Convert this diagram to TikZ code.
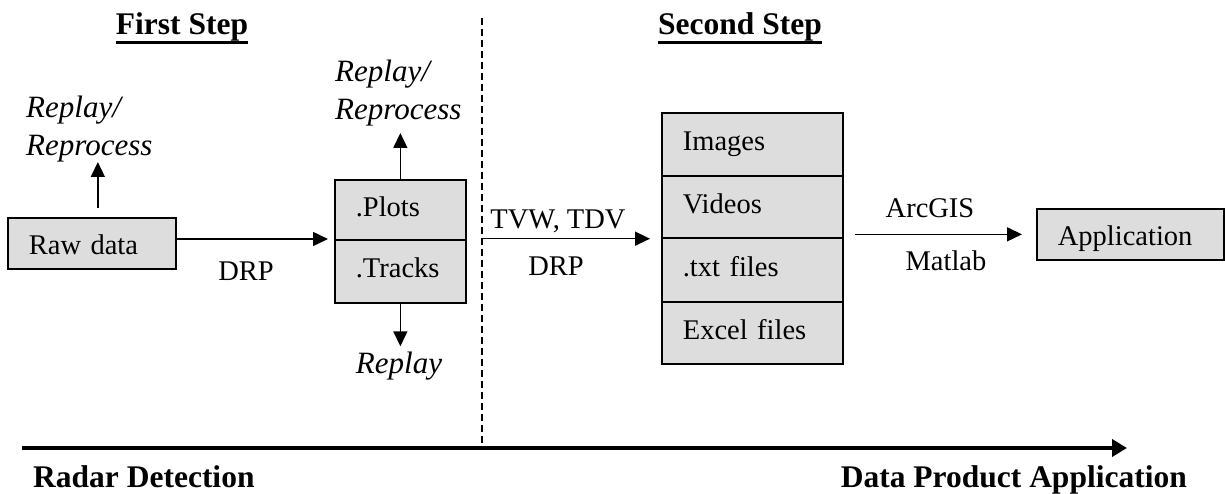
\documentclass[tikz,border=0pt]{standalone}
\usepackage{fontspec}
\setmainfont{Liberation Serif}
\usetikzlibrary{arrows.meta,calc}
\definecolor{boxgray}{HTML}{DDDDDD}
\newcommand\bodyfont{\fontsize{28.5pt}{37pt}\selectfont}
\newcommand\italfont{\fontsize{31pt}{37.5pt}\selectfont\itshape}
\newcommand\titlefont{\fontsize{31.5pt}{38pt}\selectfont\bfseries}
\begin{document}
\begin{tikzpicture}[x=1pt,y=-1pt,
  every node/.style={inner sep=0pt,font=\bodyfont},
  cell/.style={draw=black,line width=1.7pt,fill=boxgray,align=left,inner xsep=21pt,inner ysep=0pt,
    text height=19pt,text depth=6pt,anchor=north west},
  lowtext/.style={text height=25pt,text depth=2pt},
  ital/.style={font=\italfont},
  title/.style={font=\titlefont},
  arr/.style={-{Triangle[length=15pt,width=14pt]},line width=1.5pt},
  ulined/.style={line width=3pt}
]
\useasboundingbox (0,0) rectangle (1225,494);

% titles
\node[title,anchor=base] (t1) at (182,35) {First Step};
\node[title,anchor=base] (t2) at (740,35) {Second Step};
\draw[ulined] ($(t1.base west)+(0,7.5)$) -- ($(t1.base east)+(0,7.5)$);
\draw[ulined] ($(t2.base west)+(0,7.5)$) -- ($(t2.base east)+(0,7.5)$);

% boxes
\node[cell,lowtext,minimum width=168pt,text width=126pt,minimum height=51pt] (raw) at (7,217) {Raw data};
\node[cell,minimum width=131pt,text width=89pt,minimum height=60pt] (plots) at (334,179) {.Plots};
\node[cell,minimum width=131pt,text width=89pt,minimum height=63pt] (tracks) at (334,239) {.Tracks};
\node[cell,minimum width=181pt,text width=139pt,minimum height=63pt] (images) at (661,112) {Images};
\node[cell,minimum width=181pt,text width=139pt,minimum height=62pt] (videos) at (661,175) {Videos};
\node[cell,minimum width=181pt,text width=139pt,minimum height=64pt] (txt) at (661,237) {.txt files};
\node[cell,minimum width=181pt,text width=139pt,minimum height=62pt] (excel) at (661,301) {Excel files};
\node[cell,lowtext,minimum width=187pt,text width=145pt,minimum height=51pt] (app) at (1036,208) {Application};

% italic labels
\node[ital,align=left,anchor=south west] (rep1) at (26,162) {Replay/\\Reprocess};
\node[ital,align=left,anchor=south west] (rep2) at (335,126) {Replay/\\Reprocess};
\node[ital,anchor=base] (rep3) at (399,373) {Replay};

% edge labels
\node[anchor=base] (drp1) at (246,280) {DRP};
\node[anchor=base] (tvw) at (558,229) {TVW, TDV};
\node[anchor=base] (drp2) at (556,275) {DRP};
\node[anchor=base] (arc) at (930,218) {ArcGIS};
\node[anchor=base] (mat) at (946,270) {Matlab};

% divider
\coordinate (dtop) at (482,18);
\coordinate (dbot) at (482,448);
\draw[line width=1.2pt,dash pattern=on 7pt off 4pt] (dtop) -- (dbot);

% arrows
\coordinate (rawup) at ($(raw.north)+(6,-9)$);
\draw[arr] (rawup) -- (rawup |- rep1.south);
\draw[arr,shorten >=6pt] (raw.east |- tracks.north) -- (tracks.north west);
\draw[arr,shorten >=7pt] (plots.north) -- (plots.north |- rep2.south);
\draw[arr,shorten >=5pt] (tracks.south) -- (tracks.south |- rep3.north);
\draw[arr,shorten >=11pt] (dtop |- videos.south) -- (videos.south west);
\draw[arr,shorten <=11pt,shorten >=14pt] (app.west -| videos.east) -- (app.west);

% axis
\coordinate (axs) at (22,448);
\coordinate (axe) at (1127,448);
\draw[line width=4pt,-{Triangle[length=15pt,width=17pt]}] (axs) -- (axe);
\node[title,anchor=base west] (rd) at (33,487) {Radar Detection};
\node[title,anchor=base east] (dpa) at (1187,487) {Data Product Application};
\end{tikzpicture}
\end{document}
